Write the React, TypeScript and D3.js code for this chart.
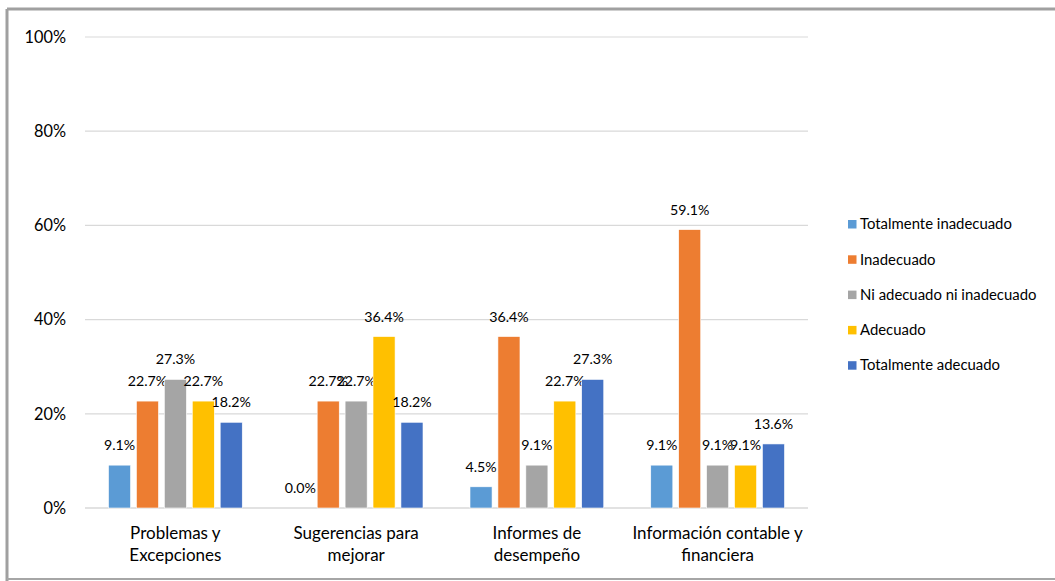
import React from "react";
import * as d3 from "d3";

const categories: string[][] = [
  ["Problemas y", "Excepciones"],
  ["Sugerencias para", "mejorar"],
  ["Informes de", "desempeño"],
  ["Información contable y", "financiera"],
];

const seriesNames = [
  "Totalmente inadecuado",
  "Inadecuado",
  "Ni adecuado ni inadecuado",
  "Adecuado",
  "Totalmente adecuado",
];

const seriesColors = ["#5B9BD5", "#ED7D31", "#A5A5A5", "#FFC000", "#4472C4"];

// values per series, one entry per category (percent)
const totalmenteInadecuado = [9.1, 0.0, 4.5, 9.1];
const inadecuado = [22.7, 22.7, 36.4, 59.1];
const niAdecuado = [27.3, 22.7, 9.1, 9.1];
const adecuado = [22.7, 36.4, 22.7, 9.1];
const totalmenteAdecuado = [18.2, 18.2, 27.3, 13.6];

const seriesValues = [totalmenteInadecuado, inadecuado, niAdecuado, adecuado, totalmenteAdecuado];

const yTicks = [0, 20, 40, 60, 80, 100];

const W = 1055;
const H = 581;
const FONT = "Lato, 'Open Sans', sans-serif";

export default function App() {
  const plotLeft = 85;
  const plotRight = 808;
  const plotTop = 37;
  const plotBottom = 508;

  const x0 = d3
    .scaleBand<number>()
    .domain(categories.map((_, i) => i))
    .range([plotLeft, plotRight])
    .paddingInner(0)
    .paddingOuter(0);

  const groupPad = 23.5;
  const x1 = d3
    .scaleBand<number>()
    .domain(seriesNames.map((_, i) => i))
    .range([groupPad, x0.bandwidth() - groupPad])
    .paddingInner(0.21)
    .paddingOuter(0);

  const y = d3.scaleLinear().domain([0, 100]).range([plotBottom, plotTop]);

  return (
    <svg
      width={W}
      height={H}
      style={{ position: "absolute", left: 0, top: 0, background: "#fff" }}
      fontFamily={FONT}
    >
      <rect x={0} y={0} width={W} height={H} fill="#fff" />
      {/* frame */}
      <line x1={7} y1={9} x2={W} y2={9} stroke="#a0a0a0" strokeWidth={3} />
      <line x1={7} y1={9} x2={7} y2={H} stroke="#a0a0a0" strokeWidth={3} />
      <line x1={7} y1={579} x2={W} y2={579} stroke="#a6a6a6" strokeWidth={2} />

      {/* gridlines and value axis labels */}
      {yTicks.map((t) => (
        <g key={t}>
          <line
            x1={plotLeft}
            x2={plotRight}
            y1={y(t)}
            y2={y(t)}
            stroke="#d9d9d9"
            strokeWidth={t === 0 ? 1.5 : 1.2}
          />
          <text
            x={66}
            y={y(t)}
            dy="0.35em"
            textAnchor="end"
            fontSize={16.3}
            fill="#000"
          >
            {`${t}%`}
          </text>
        </g>
      ))}

      {/* bars with value labels */}
      {categories.map((_, ci) => (
        <g key={ci} transform={`translate(${x0(ci)},0)`}>
          {seriesValues.map((vals, si) => {
            const v = vals[ci];
            const bx = x1(si)!;
            const bw = x1.bandwidth();
            return (
              <g key={si}>
                <rect
                  x={bx}
                  y={y(v)}
                  width={bw}
                  height={plotBottom - y(v)}
                  fill={seriesColors[si]}
                  stroke="#fff"
                  strokeWidth={0.6}
                />
                <text
                  x={bx + bw / 2}
                  y={y(v) - 15}
                  textAnchor="middle"
                  fontSize={14.2}
                  fill="#000"
                >
                  {`${v.toFixed(1)}%`}
                </text>
              </g>
            );
          })}
        </g>
      ))}

      {/* category labels */}
      {categories.map((lines, ci) => (
        <text
          key={ci}
          x={x0(ci)! + x0.bandwidth() / 2}
          textAnchor="middle"
          fontSize={17}
          fill="#000"
        >
          {lines.map((l, li) => (
            <tspan key={li} x={x0(ci)! + x0.bandwidth() / 2} y={539 + li * 22}>
              {l}
            </tspan>
          ))}
        </text>
      ))}

      {/* legend */}
      {seriesNames.map((name, si) => {
        const ly = 224 + si * 35.3;
        return (
          <g key={name}>
            <rect x={848} y={ly - 4} width={8.5} height={8.5} fill={seriesColors[si]} />
            <text x={860} y={ly} dy="0.35em" fontSize={14.9} fill="#000">
              {name}
            </text>
          </g>
        );
      })}
    </svg>
  );
}
